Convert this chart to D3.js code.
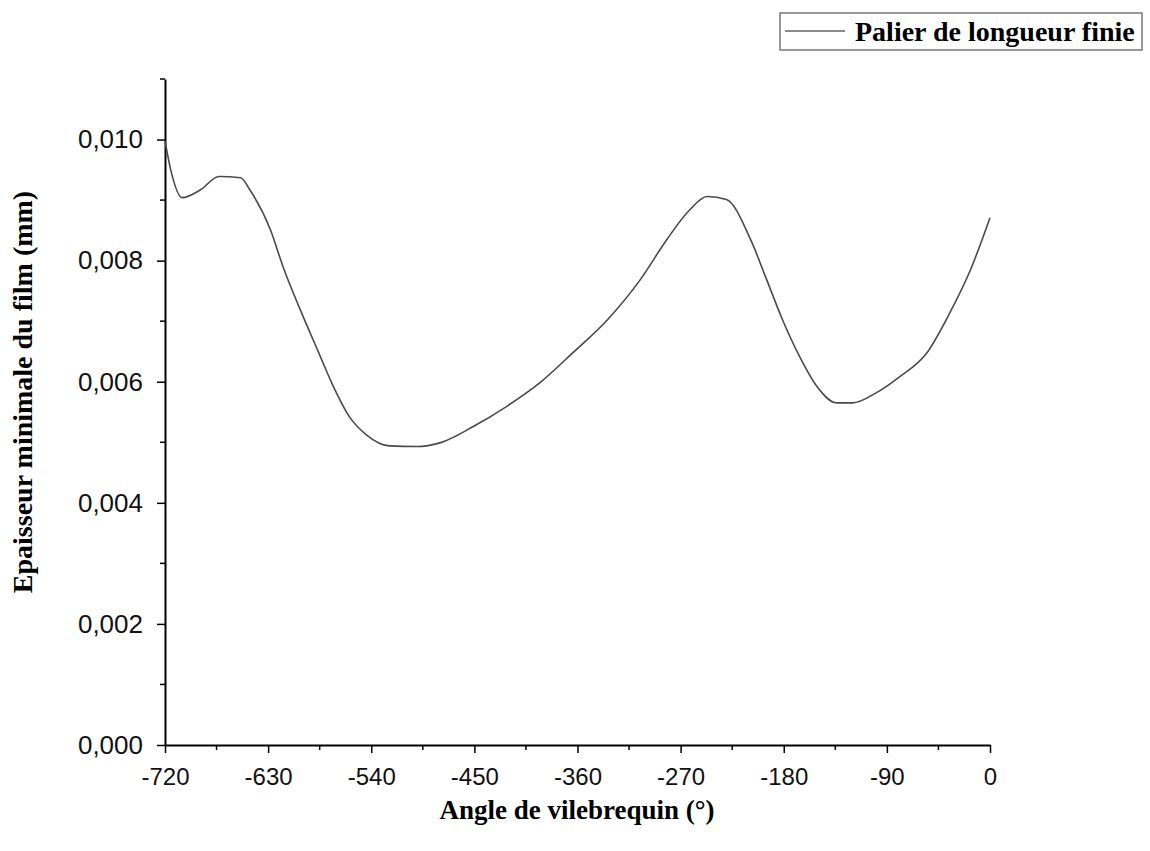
<!DOCTYPE html>
<html>
<head>
<meta charset="utf-8">
<script src="https://cdn.jsdelivr.net/npm/d3@7"></script>
<style>
  body { margin: 0; background: #fff; }
  svg { display: block; }
</style>
</head>
<body>
<svg id="chart" width="1150" height="851"></svg>
<script>
const angles = [-720, -714, -705, -689, -673, -654, -646, -628, -617, -602, -587, -573, -559, -544, -524, -500, -480, -451, -422, -393, -364, -334, -305, -282, -262, -247, -230, -209, -195, -181, -166, -151, -134, -120, -99, -79, -55, -35, -17, 0];
const thickness = [0.00998, 0.00942, 0.00904, 0.00917, 0.00939, 0.00937, 0.00917, 0.00851, 0.00790, 0.00719, 0.00653, 0.00592, 0.00542, 0.00512, 0.00494, 0.00493, 0.00499, 0.00526, 0.00559, 0.00598, 0.00648, 0.00702, 0.00769, 0.00835, 0.00884, 0.00906, 0.00901, 0.00835, 0.00769, 0.00702, 0.00641, 0.00592, 0.00565, 0.00565, 0.00582, 0.00608, 0.00648, 0.00714, 0.00785, 0.00871];
const xTicks = [-720, -630, -540, -450, -360, -270, -180, -90, 0];
const yTicks = [0, 0.002, 0.004, 0.006, 0.008, 0.010];
const seriesName = "Palier de longueur finie";
const xTitle = "Angle de vilebrequin (°)";
const yTitle = "Epaisseur minimale du film (mm)";

const svg = d3.select("#chart");
const x = d3.scaleLinear().domain([-720, 0]).range([165, 990]);
const y = d3.scaleLinear().domain([0, 0.011]).range([745, 79]);

const fmtY = d => d3.format(".3f")(d).replace(".", ",");
const fmtX = d => String(d);

// minor ticks
const xMinor = d3.range(-675, 0, 90);
const yMinor = d3.range(0.001, 0.0111, 0.002);

const gx = svg.append("g").attr("transform", "translate(0,745)")
  .call(d3.axisBottom(x).tickValues(xTicks).tickFormat(fmtX).tickSize(8).tickSizeOuter(0).tickPadding(15));
gx.append("g").selectAll("line").data(xMinor).join("line")
  .attr("x1", d => x(d)).attr("x2", d => x(d)).attr("y1", 0).attr("y2", 5)
  .attr("stroke", "#000").attr("stroke-width", 1.5);

const gy = svg.append("g").attr("transform", "translate(165,0)")
  .call(d3.axisLeft(y).tickValues(yTicks).tickFormat(fmtY).tickSize(8).tickSizeOuter(0).tickPadding(14));
gy.append("g").selectAll("line").data(yMinor).join("line")
  .attr("x1", 0).attr("x2", -5).attr("y1", d => y(d)).attr("y2", d => y(d))
  .attr("stroke", "#000").attr("stroke-width", 1.5);

gx.selectAll(".tick text").style("font-size", "24px");
gy.selectAll(".tick text").style("font-size", "26px");
[gx, gy].forEach(g => {
  g.select(".domain").attr("stroke", "#000").attr("stroke-width", 2);
  g.selectAll(".tick line").attr("stroke", "#000").attr("stroke-width", 1.5);
  g.selectAll(".tick text").attr("fill", "#111")
    .style("font-family", "'Liberation Sans', Arial, sans-serif");
});

// line
const data = angles.map((a, i) => ({a, v: thickness[i]}));
svg.append("path").datum(data)
  .attr("fill", "none").attr("stroke", "#4a4a4a").attr("stroke-width", 1.6)
  .attr("stroke-linejoin", "round")
  .attr("d", d3.line().x(d => x(d.a)).y(d => y(d.v)).curve(d3.curveMonotoneX));

// titles
svg.append("text").attr("x", 577).attr("y", 819).attr("text-anchor", "middle")
  .style("font-family", "'Liberation Serif', 'Times New Roman', serif")
  .style("font-weight", "bold").style("font-size", "27px").text(xTitle);
svg.append("text").attr("transform", "translate(32,392) rotate(-90)").attr("text-anchor", "middle")
  .style("font-family", "'Liberation Serif', 'Times New Roman', serif")
  .style("font-weight", "bold").style("font-size", "28px").text(yTitle);

// legend
const lg = svg.append("g");
lg.append("rect").attr("x", 780).attr("y", 13).attr("width", 362).attr("height", 37)
  .attr("fill", "#fff").attr("stroke", "#777").attr("stroke-width", 1.5);
lg.append("line").attr("x1", 785).attr("x2", 845).attr("y1", 31).attr("y2", 31)
  .attr("stroke", "#8a8a8a").attr("stroke-width", 2);
lg.append("text").attr("x", 855).attr("y", 41)
  .style("font-family", "'Liberation Serif', 'Times New Roman', serif")
  .style("font-weight", "bold").style("font-size", "28px").text(seriesName);
</script>
</body>
</html>
